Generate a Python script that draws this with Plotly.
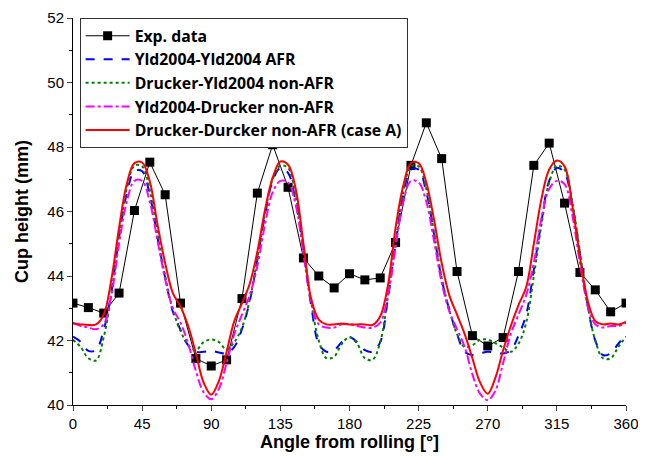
import plotly.graph_objects as go

exp_angle = list(range(0, 361, 10))
exp_height = [43.16, 43.02, 42.85, 43.47, 46.03, 47.53, 46.52, 43.16, 41.44, 41.21,
              41.40, 43.30, 46.57, 48.07, 46.75, 44.56, 44.00, 43.63, 44.07, 43.88,
              43.94, 45.04, 47.43, 48.75, 47.64, 44.14, 42.15, 41.83, 42.09, 44.14,
              47.43, 48.12, 46.26, 44.11, 43.57, 42.89, 43.16]

sim_angle = list(range(0, 361, 5))

yld_yld_afr = [42.12, 41.96, 41.68, 41.70, 42.33, 43.50, 45.20, 46.55, 47.25, 47.25,
               46.50, 45.20, 43.95, 42.90, 42.33, 41.85, 41.65, 41.65, 41.68, 41.63,
               41.60, 41.80, 42.35, 43.20, 44.50, 45.90, 46.95, 47.35, 47.20, 46.30,
               44.80, 43.10, 41.90, 41.65, 41.70, 41.95, 42.10, 41.95, 41.70, 41.65,
               41.95, 43.30, 45.00, 46.50, 47.30, 47.30, 46.60, 45.30, 43.90, 42.95,
               42.20, 41.65, 41.55, 41.60, 41.65, 41.62, 41.60, 41.70, 42.15, 42.80,
               44.20, 45.70, 46.95, 47.35, 47.20, 46.20, 44.70, 43.10, 42.00, 41.55,
               41.60, 41.90, 42.15]

dru_yld_nonafr = [42.02, 41.80, 41.45, 41.38, 42.10, 43.45, 45.30, 46.70, 47.42, 47.40,
                  46.65, 45.30, 44.00, 42.95, 42.30, 41.85, 41.70, 41.95, 42.03, 41.95,
                  41.72, 41.95, 42.40, 43.25, 44.55, 45.95, 47.00, 47.42, 47.35, 46.45,
                  44.90, 43.20, 42.00, 41.45, 41.50, 41.90, 42.10, 41.90, 41.45, 41.40,
                  41.95, 43.35, 45.05, 46.60, 47.40, 47.40, 46.70, 45.35, 43.95, 42.95,
                  42.20, 41.80, 41.85, 42.02, 42.03, 41.92, 41.78, 41.65, 41.90, 42.55,
                  44.00, 45.60, 46.90, 47.42, 47.30, 46.30, 44.75, 43.10, 42.00, 41.45,
                  41.45, 41.80, 42.12]

yld_dru_nonafr = [42.55, 42.45, 42.40, 42.35, 42.50, 43.40, 45.00, 46.30, 46.95, 46.95,
                  46.30, 45.10, 43.90, 43.00, 42.55, 41.90, 41.05, 40.40, 40.18, 40.50,
                  41.30, 42.20, 42.80, 43.40, 44.30, 45.60, 46.60, 46.95, 46.90, 46.20,
                  44.70, 43.20, 42.50, 42.40, 42.40, 42.50, 42.50, 42.45, 42.40, 42.40,
                  42.55, 43.40, 44.90, 46.30, 46.95, 46.90, 46.30, 45.10, 43.80, 42.90,
                  42.35, 41.80, 40.95, 40.35, 40.15, 40.45, 41.30, 42.20, 42.80, 43.40,
                  44.40, 45.80, 46.70, 46.95, 46.85, 45.90, 44.40, 43.10, 42.50, 42.40,
                  42.45, 42.45, 42.55]

dru_dru_nonafr = [42.53, 42.50, 42.48, 42.50, 42.80, 43.90, 45.50, 46.85, 47.50, 47.52,
                  46.93, 45.60, 44.40, 43.47, 43.05, 42.45, 41.60, 40.70, 40.32, 40.75,
                  41.65, 42.60, 43.15, 43.75, 44.75, 46.05, 47.05, 47.55, 47.45, 46.70,
                  45.00, 43.30, 42.65, 42.50, 42.50, 42.53, 42.50, 42.50, 42.50, 42.48,
                  42.75, 43.70, 45.50, 46.80, 47.50, 47.50, 46.90, 45.75, 44.40, 43.40,
                  42.80, 42.20, 41.45, 40.70, 40.35, 40.85, 41.70, 42.45, 43.10, 43.65,
                  45.00, 46.40, 47.30, 47.58, 47.40, 46.20, 44.60, 43.25, 42.60, 42.50,
                  42.53, 42.50, 42.58]

x_ticks = [0, 45, 90, 135, 180, 225, 270, 315, 360]
y_ticks = [40, 42, 44, 46, 48, 50, 52]

FONT = "Liberation Sans, Arial, sans-serif"
LEGEND_FONT = "Open Sans, Liberation Sans, Arial, sans-serif"

fig = go.Figure()
fig.add_trace(go.Scatter(x=exp_angle, y=exp_height, mode="lines+markers",
                         name="Exp. data",
                         line=dict(color="black", width=1),
                         marker=dict(symbol="square", size=9, color="black")))
fig.add_trace(go.Scatter(x=sim_angle, y=yld_yld_afr, mode="lines",
                         name="Yld2004-Yld2004 AFR", line_shape="spline",
                         line=dict(color="#0000ff", width=2, dash="dash")))
fig.add_trace(go.Scatter(x=sim_angle, y=dru_yld_nonafr, mode="lines",
                         name="Drucker-Yld2004 non-AFR", line_shape="spline",
                         line=dict(color="#008000", width=2, dash="dot")))
fig.add_trace(go.Scatter(x=sim_angle, y=yld_dru_nonafr, mode="lines",
                         name="Yld2004-Drucker non-AFR", line_shape="spline",
                         line=dict(color="#ff00ff", width=2, dash="dashdot")))
fig.add_trace(go.Scatter(x=sim_angle, y=dru_dru_nonafr, mode="lines",
                         name="Drucker-Durcker non-AFR (case A)", line_shape="spline",
                         line=dict(color="#ff0000", width=2)))

# the page places the figure 8px in from the top-left corner, so the figure is
# sized to end at the window edge
fig.update_layout(
    width=638, height=448,
    margin=dict(l=65, r=20, t=10, b=51),
    paper_bgcolor="white", plot_bgcolor="white",
    font=dict(family=FONT, size=15, color="black"),
    showlegend=True,
    legend=dict(x=0.012, y=1.0, xanchor="left", yanchor="top",
                bgcolor="white", bordercolor="#333333", borderwidth=1,
                font=dict(size=15.8, family=LEGEND_FONT, weight="bold"),
                tracegroupgap=0, itemwidth=44),
)
fig.update_xaxes(range=[0, 360], tickvals=x_ticks, ticks="outside", ticklen=5,
                 showline=True, linecolor="black", linewidth=1, showgrid=False,
                 zeroline=False, tickfont=dict(size=15), automargin=False,
                 minor=dict(dtick=22.5, ticks="outside", ticklen=3, tickcolor="black"),
                 title=dict(text="<b>Angle from rolling [°]</b>", font=dict(size=18), standoff=4))
fig.update_yaxes(range=[40, 52], tickvals=y_ticks, ticks="outside", ticklen=5,
                 showline=True, linecolor="black", linewidth=1, showgrid=False,
                 zeroline=False, tickfont=dict(size=15), automargin=False,
                 minor=dict(dtick=1, ticks="outside", ticklen=3, tickcolor="black"),
                 title=dict(text="<b>Cup height (mm)</b>", font=dict(size=18), standoff=14))

fig.write_html("out.html")
